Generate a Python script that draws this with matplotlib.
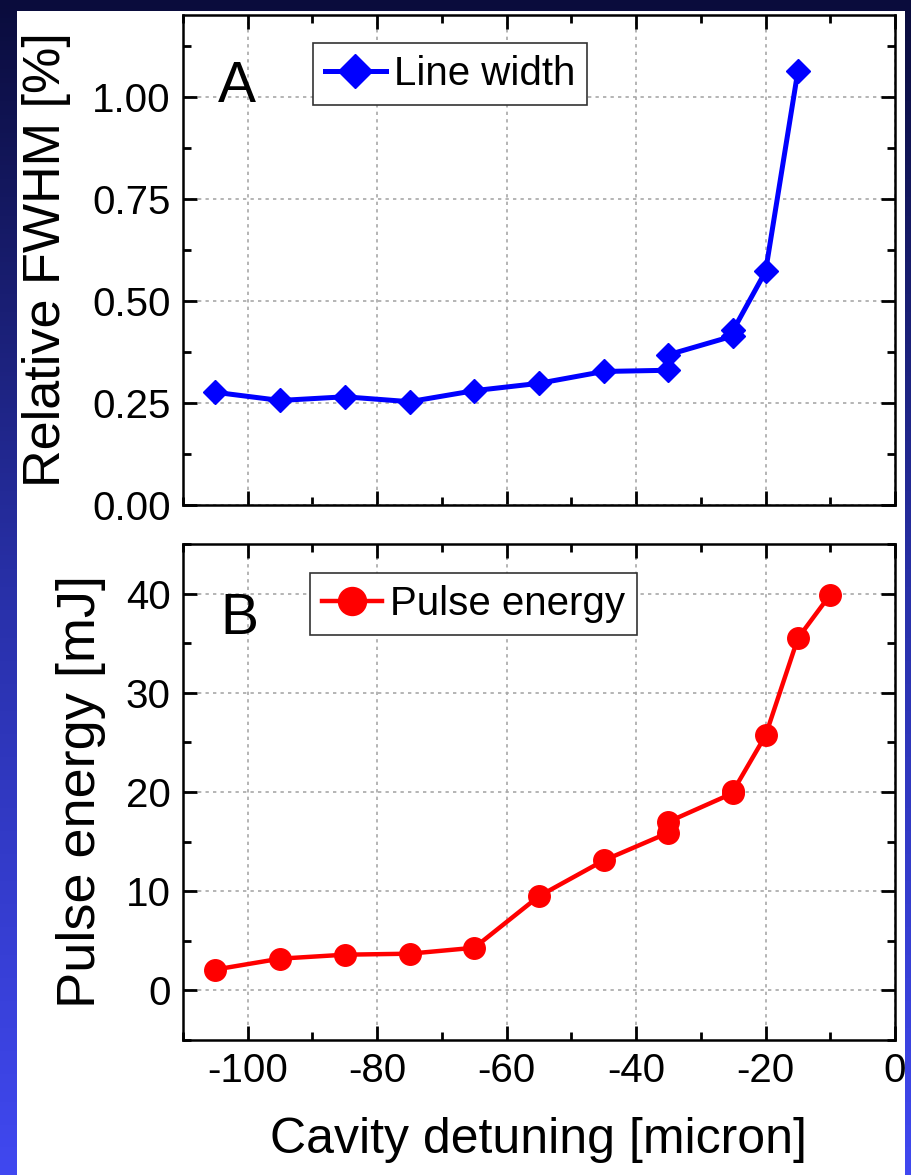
import numpy as np
import matplotlib
matplotlib.use('Agg')
import matplotlib.pyplot as plt
from matplotlib.ticker import MultipleLocator, FormatStrFormatter
from matplotlib.colors import LinearSegmentedColormap
from matplotlib.patches import Rectangle

plt.rcParams['font.family'] = ['Liberation Sans', 'DejaVu Sans']
plt.rcParams['axes.unicode_minus'] = False

# ---------------- data ----------------
fwhm_x = [-105, -95, -85, -75, -65, -55, -45, -35, -35, -25, -25, -20, -15]
fwhm_y = [0.276, 0.256, 0.265, 0.253, 0.280, 0.298, 0.327, 0.330, 0.368,
          0.414, 0.428, 0.572, 1.063]
energy_x = [-105, -95, -85, -75, -65, -55, -45, -35, -35, -25, -25, -20, -15, -10]
energy_y = [2.1, 3.2, 3.6, 3.7, 4.3, 9.5, 13.1, 15.9, 17.0, 19.9, 20.1,
            25.7, 35.5, 39.9]
x_ticks = [-100, -80, -60, -40, -20, 0]
fwhm_ticks = [0.00, 0.25, 0.50, 0.75, 1.00]
energy_ticks = [0, 10, 20, 30, 40]

W, H = 911, 1175
fig = plt.figure(figsize=(W / 100, H / 100), dpi=100)
fig.patch.set_facecolor('white')

# ---------------- background frame (blue gradient) ----------------
cmap = LinearSegmentedColormap.from_list('bg', ['#0a0c3c', '#2830a8', '#4048f0'])
grad = np.linspace(0, 1, 256).reshape(-1, 1)
bg = fig.add_axes([0, 0, 1, 1], zorder=-10)
bg.imshow(grad, aspect='auto', cmap=cmap, extent=[0, 1, 0, 1], origin='upper')
bg.add_patch(Rectangle((17 / W, 0), (905 - 17) / W, (H - 11) / H,
                       facecolor='white', edgecolor='none', transform=bg.transAxes))
bg.set_xlim(0, 1)
bg.set_ylim(0, 1)
bg.axis('off')

rs = fig.add_axes([905 / W, 0, 6 / W, 1], zorder=10)
rs.imshow(grad, aspect='auto', cmap=cmap, extent=[0, 1, 0, 1], origin='upper')
rs.axis('off')

# ---------------- axes ----------------
ax1 = fig.add_axes([183 / W, 1 - 505 / H, 712 / W, 490 / H])
ax2 = fig.add_axes([183 / W, 1 - 1040 / H, 712 / W, 496 / H])

for ax in (ax1, ax2):
    ax.set_xlim(-110, 0)
    ax.set_xticks(x_ticks)
    ax.xaxis.set_minor_locator(MultipleLocator(10))
    ax.tick_params(which='both', direction='in', top=True, right=True,
                   width=2, colors='black')
    ax.tick_params(which='major', length=10, labelsize=29, pad=9)
    ax.tick_params(which='minor', length=6)
    for s in ax.spines.values():
        s.set_linewidth(1.8)
    ax.grid(True, which='major', color='#a8a8a8', linestyle=(0, (2, 2.5)),
            linewidth=1.2)
    ax.set_axisbelow(True)

# top panel
ax1.plot(fwhm_x, fwhm_y, color='#0000ff', lw=3.6, marker='D', ms=12.5,
         label='Line width', zorder=3)
ax1.set_ylim(0, 1.2)
ax1.set_yticks(fwhm_ticks)
ax1.yaxis.set_major_formatter(FormatStrFormatter('%.2f'))
ax1.yaxis.set_minor_locator(MultipleLocator(0.125))
ax1.tick_params(labelbottom=False)
ax1.set_ylabel('Relative FWHM [%]', fontsize=37.5)
ax1.yaxis.set_label_coords(-0.157, 0.5)
ax1.text(0.049, 0.822, 'A', transform=ax1.transAxes, fontsize=41, va='baseline')
leg1 = ax1.legend(loc='upper left', bbox_to_anchor=(0.1826, 0.943),
                  borderaxespad=0, fontsize=29, frameon=True, fancybox=False,
                  edgecolor='#333333', framealpha=1, handlelength=1.5,
                  handletextpad=0.2, borderpad=0.3, markerscale=1.4)
leg1.get_frame().set_linewidth(1.2)

# bottom panel
ax2.plot(energy_x, energy_y, color='#ff0000', lw=3.2, marker='o', ms=15.5,
         label='Pulse energy', zorder=3)
ax2.set_ylim(-5, 45)
ax2.set_yticks(energy_ticks)
ax2.yaxis.set_minor_locator(MultipleLocator(5))
ax2.set_ylabel('Pulse energy [mJ]', fontsize=39)
ax2.yaxis.set_label_coords(-0.108, 0.5)
ax2.set_xlabel('Cavity detuning [micron]', fontsize=36)
ax2.xaxis.set_label_coords(0.5, -0.155)
ax2.text(0.052, 0.819, 'B', transform=ax2.transAxes, fontsize=41, va='baseline')
leg2 = ax2.legend(loc='upper left', bbox_to_anchor=(0.178, 0.9415),
                  borderaxespad=0, fontsize=29, frameon=True, fancybox=False,
                  edgecolor='#333333', framealpha=1, handlelength=1.5,
                  handletextpad=0.2, borderpad=0.3, markerscale=1.3)
leg2.get_frame().set_linewidth(1.2)

fig.savefig('out.png', dpi=100, facecolor=fig.get_facecolor())
